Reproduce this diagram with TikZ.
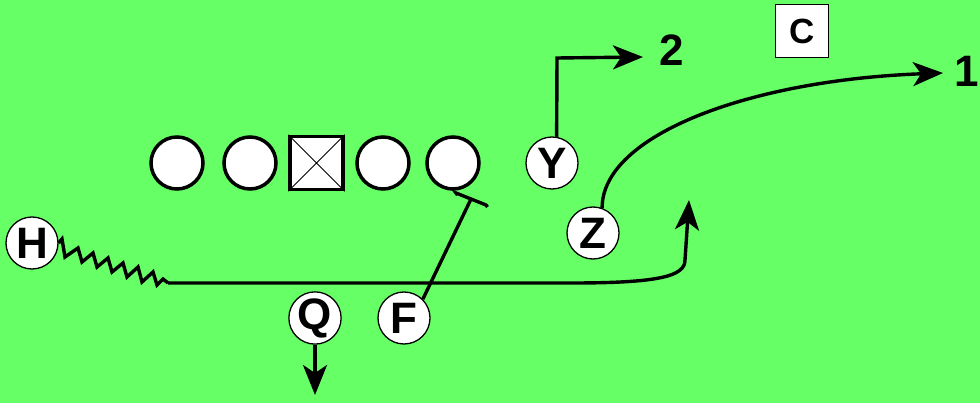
\documentclass[tikz,border=0pt]{standalone}
\usepackage{fontspec}
\setmainfont{Liberation Sans}
\usetikzlibrary{arrows.meta,calc}
\definecolor{field}{RGB}{102,255,102}
\begin{document}
\begin{tikzpicture}[x=1pt,y=-1pt,
  lineman/.style={circle,draw=black,fill=white,line width=3.5pt,minimum size=52pt,inner sep=0pt},
  player/.style={circle,draw=black,fill=white,line width=1.3pt,minimum size=52pt,inner sep=0pt,font=\fontsize{44}{44}\selectfont\bfseries},
  route/.style={line width=3.4pt},
  tip/.style={-{Stealth[length=30pt,width=24pt,inset=8pt]}},
  lbl/.style={font=\fontsize{44}{44}\selectfont\bfseries,inner sep=0pt}]
\fill[field] (0,0) rectangle (980,403);
\useasboundingbox (0,0) rectangle (980,403);
% line
\node[lineman] (L1) at (177,163) {};
\node[lineman] (L2) at (250,163) {};
\node[rectangle,draw=black,fill=white,line width=3.5pt,minimum size=53pt,inner sep=0pt] (Cn) at (316.5,163) {};
\draw[line width=1pt] (Cn.north west) -- (Cn.south east) (Cn.north east) -- (Cn.south west);
\node[lineman] (L4) at (383,163) {};
\node[lineman] (L5) at (453,163) {};
% skill players
\node[player] (H) at (32,243) {H};
\node[player] (Q) at (315,318) {Q};
\node[player] (F) at (404,318) {F};
\node[player] (Y) at (552,163) {Y};
\node[player] (Z) at (593,233) {Z};
\node[rectangle,draw=black,fill=white,line width=1.3pt,minimum size=53pt,inner sep=0pt,font=\fontsize{35}{35}\selectfont\bfseries] (C) at (802,31) {C};
\node[lbl] (n2) at (672,50) {2};
\node[lbl] (n1) at (967,71) {1};
% routes
\coordinate (hz) at (168,283);
\draw[route,line join=miter] (H.east) -- (62,239) -- (65,257) -- (78,248) -- (82,262) -- (93,253) -- (97,267)
  -- (108,258) -- (112,272) -- (123,263) -- (127,277) -- (138,267) -- (142,282) -- (153,272) -- (157,285)
  -- (163,279) -- (hz);
\coordinate (hc) at (689,200);
\draw[route,tip] (hz) -- (572,283) .. controls (660,283) and (685,276) .. (685,260) -- (hc);
\coordinate (qe) at (315,395);
\draw[route,tip] (Q.south) -- (qe);
\coordinate (fb) at (471,199);
\draw[route] (F.north east) -- (fb);
\draw[route] ($(fb)+(-13.5,-4)$) -- ($(fb)+(-15,-6)$) -- ($(fb)+(15,6)$) -- ($(fb)+(16.5,8)$);
\coordinate (ye) at (643,57);
\draw[route,tip] (Y.80) -- (557,58) -- (ye);
\coordinate (ze) at (943,73);
\draw[route,tip] (Z.70) .. controls (602,135) and (750,80) .. (ze);
\end{tikzpicture}
\end{document}
